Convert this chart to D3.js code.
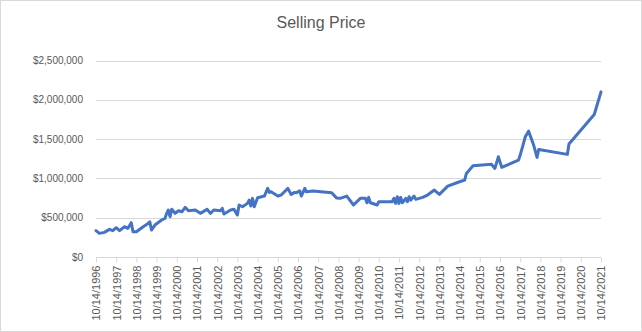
<!DOCTYPE html>
<html><head><meta charset="utf-8">
<script src="https://cdn.jsdelivr.net/npm/d3@7"></script>
<style>body{margin:0;background:#fff}svg{display:block}</style>
</head><body>
<script>
const dates = ["1996-10","1996-12","1997-03","1997-06","1997-08","1997-10","1997-12","1998-03","1998-05","1998-07","1998-08","1998-10","1999-02","1999-05","1999-06","1999-07","1999-09","2000-01","2000-03","2000-04","2000-05","2000-06","2000-07","2000-09","2000-11","2001-01","2001-03","2001-05","2001-09","2001-12","2002-04","2002-06","2002-08","2002-12","2003-01","2003-02","2003-06","2003-08","2003-10","2003-11","2004-01","2004-04","2004-05","2004-06","2004-07","2004-08","2004-10","2005-02","2005-04","2005-05","2005-06","2005-10","2005-12","2006-04","2006-06","2006-08","2006-09","2006-11","2006-12","2007-02","2007-03","2007-07","2008-06","2008-09","2008-11","2009-03","2009-07","2009-11","2010-02","2010-03","2010-04","2010-05","2010-09","2010-10","2011-03","2011-06","2011-07","2011-08","2011-09","2011-10","2011-11","2011-12","2012-02","2012-03","2012-04","2012-05","2012-07","2012-08","2012-12","2013-03","2013-07","2013-10","2014-03","2014-10","2015-01","2015-02","2015-06","2016-05","2016-07","2016-09","2016-11","2017-09","2017-10","2018-01","2018-03","2018-06","2018-08","2018-09","2020-02","2020-03","2021-06","2021-10"];
const prices = [335000,301000,314000,352000,335000,373000,335000,386000,365000,437000,322000,322000,386000,428000,449000,343000,407000,471000,492000,556000,598000,513000,607000,556000,589000,576000,632000,589000,598000,556000,607000,556000,598000,589000,620000,547000,598000,607000,534000,662000,640000,683000,725000,649000,747000,640000,755000,776000,874000,823000,831000,776000,789000,874000,797000,823000,818000,844000,776000,874000,831000,840000,818000,750000,747000,776000,662000,747000,747000,691000,759000,691000,662000,704000,704000,704000,747000,683000,768000,683000,759000,691000,747000,704000,768000,725000,776000,734000,759000,789000,853000,797000,903000,958000,980000,1064000,1162000,1180000,1128000,1276000,1141000,1234000,1298000,1531000,1603000,1425000,1268000,1370000,1307000,1438000,1815000,2103000];
const yTicks = [0,500000,1000000,1500000,2000000,2500000];
const xTickYears = d3.range(1996, 2022);
const title = "Selling Price";

const W = 642, H = 332;
const m = {left: 96, right: 41, top: 60.7, bottom: 75};
const svg = d3.select("body").append("svg").attr("width", W).attr("height", H);
svg.append("rect").attr("x",0.5).attr("y",0.5).attr("width",W-1).attr("height",H-1)
  .attr("fill","#fff").attr("stroke","#d9d9d9");

const data = dates.map((d,i)=>({date: new Date(+d.slice(0,4), +d.slice(5)-1, 14), v: prices[i]}));

const x = d3.scaleTime().domain([new Date(1996,9,14), new Date(2021,9,14)]).range([m.left, W-m.right]);
const y = d3.scaleLinear().domain([0,2500000]).range([257, m.top]);

const font = "'Liberation Sans', Arial, sans-serif";
svg.append("g").selectAll("line").data(yTicks.slice(1)).join("line")
  .attr("x1", m.left).attr("x2", W-m.right)
  .attr("y1", d=>Math.round(y(d))+0.5).attr("y2", d=>Math.round(y(d))+0.5)
  .attr("stroke","#d9d9d9").attr("stroke-width",1);
svg.append("g").selectAll("text").data(yTicks).join("text")
  .attr("x", 83).attr("y", d=>y(d)).attr("dy","0.35em").attr("text-anchor","end")
  .attr("font-family", font).attr("font-size","10px").attr("fill","#595959")
  .text(d=>d3.format("$,")(d));
const tickDates = xTickYears.map(yr=>new Date(yr,9,14));
const xAxis = d3.axisBottom(x).tickValues(tickDates).tickSize(5);
const gx = svg.append("g").attr("transform","translate(0,257.5)").call(xAxis);
gx.select(".domain").attr("stroke","#d9d9d9").attr("d", `M${m.left},0H${W-m.right}`);
gx.selectAll(".tick line").attr("stroke","#d9d9d9");
gx.selectAll(".tick text")
  .text(d=>`${d.getMonth()+1}/${d.getDate()}/${d.getFullYear()}`)
  .attr("font-family", font).attr("font-size","11px").attr("fill","#595959")
  .attr("transform","rotate(-90)").attr("text-anchor","end")
  .attr("x",-8).attr("y",0).attr("dy","0.35em");

svg.append("path").datum(data)
  .attr("fill","none").attr("stroke","#4472C4").attr("stroke-width",3)
  .attr("stroke-linejoin","round").attr("stroke-linecap","round")
  .attr("d", d3.line().x(d=>x(d.date)).y(d=>y(d.v)));

svg.append("text").attr("x", 321).attr("y", 28).attr("text-anchor","middle")
  .attr("font-family", font).attr("font-size","16px").attr("fill","#595959").text(title);
</script>
</body></html>
